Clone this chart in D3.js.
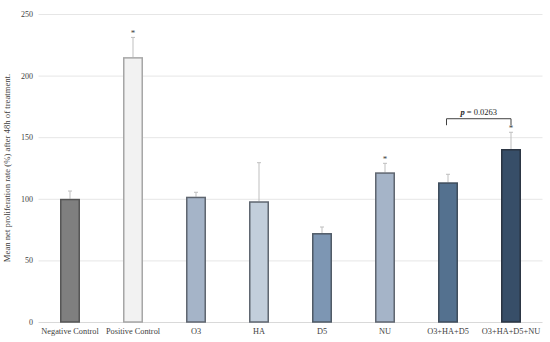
<!DOCTYPE html>
<html><head><meta charset="utf-8">
<script src="https://cdn.jsdelivr.net/npm/d3@7"></script>
<style>body{margin:0;background:#fff}svg{display:block}text{font-family:"Liberation Serif","DejaVu Serif",serif}</style>
</head><body><svg id="c" width="550" height="342"></svg>
<script>
const categories = ["Negative Control","Positive Control","O3","HA","D5","NU","O3+HA+D5","O3+HA+D5+NU"];
const values = [100, 215, 101.7, 98, 72.2, 121.5, 113.4, 140.4];
const errors = [6.3, 16, 3.6, 31.3, 4.9, 7.3, 6.5, 13.6];
const significant = [false, true, false, false, false, true, false, true];
const fills = ["#7f7f7f","#f2f2f2","#a5b4c8","#c2cedb","#7d96b3","#a5b4c8","#54718f","#374e68"];
const strokes = ["#555555","#a6a6a6","#5f6670","#5f6670","#4f5a66","#5f6670","#3e4c5c","#2a3442"];
const yTicks = [0, 50, 100, 150, 200, 250];
const comparison = {from: "O3+HA+D5", to: "O3+HA+D5+NU", label: "0.0263", level: 165};

const svg = d3.select("#c");
const x = d3.scaleBand().domain(categories).range([38.5, 542.5]).paddingInner(0.683).paddingOuter(0.3415);
const y = d3.scaleLinear().domain([0, 250]).range([322, 14]);

// gridlines
svg.append("g").selectAll("line").data(yTicks.filter(d=>d>0)).join("line")
  .attr("x1", 38.5).attr("x2", 542.5).attr("y1", d=>y(d)+0.5).attr("y2", d=>y(d)+0.5)
  .attr("stroke", "#e6e6e6").attr("stroke-width", 1);
svg.append("line").attr("x1",38.5).attr("x2",542.5).attr("y1",y(0)+0.5).attr("y2",y(0)+0.5)
  .attr("stroke","#d9d9d9");

// y axis tick labels
const ya = svg.append("g").attr("transform","translate(33,0)")
  .call(d3.axisLeft(y).tickValues(yTicks).tickSize(0).tickPadding(0));
ya.select(".domain").remove();
ya.selectAll("text").attr("font-family","Liberation Serif, serif").attr("font-size", 8).attr("fill","#404040");

// x axis labels
const xa = svg.append("g").attr("transform","translate(0,"+(y(0))+")")
  .call(d3.axisBottom(x).tickSize(0).tickPadding(6));
xa.select(".domain").remove();
xa.selectAll("text").attr("font-family","Liberation Serif, serif").attr("font-size", 8.3).attr("fill","#404040");

// error bars
const data = categories.map((c,i)=>({c, v: values[i], e: errors[i], s: significant[i], f: fills[i], k: strokes[i]}));
const eg = svg.append("g");
data.forEach(d=>{
  const cx = x(d.c) + x.bandwidth()/2;
  eg.append("line").attr("x1",cx).attr("x2",cx).attr("y1",y(d.v)).attr("y2",y(d.v+d.e))
    .attr("stroke","#bfbfbf").attr("stroke-width",1);
  eg.append("line").attr("x1",cx-2).attr("x2",cx+2).attr("y1",y(d.v+d.e)).attr("y2",y(d.v+d.e))
    .attr("stroke","#bfbfbf").attr("stroke-width",1);
  if (d.s) {
    eg.append("text").attr("x",cx).attr("y",y(d.v+d.e)-1.5).attr("text-anchor","middle")
      .attr("font-size",9).attr("fill","#404040").text("*");
  }
});

// bars
svg.append("g").selectAll("rect").data(data).join("rect")
  .attr("x", d=>x(d.c)+0.75).attr("y", d=>y(d.v)+0.75)
  .attr("width", x.bandwidth()-1.5).attr("height", d=>y(0)-y(d.v)-0.75)
  .attr("fill", d=>d.f).attr("stroke", d=>d.k).attr("stroke-width",1.5);

// comparison bracket
const x1 = x(comparison.from)+x.bandwidth()/2 - 1.5, x2 = x(comparison.to)+x.bandwidth()/2;
const by = y(comparison.level);
svg.append("path").attr("d", `M${x1},${by+6.5}V${by}H${x2}V${by+6.5}`)
  .attr("fill","none").attr("stroke","#404040").attr("stroke-width",1);
const t = svg.append("text").attr("x",(x1+x2)/2).attr("y",by-4).attr("text-anchor","middle")
  .attr("font-size",8.5).attr("fill","#262626");
t.append("tspan").attr("font-style","italic").attr("font-weight","bold").text("p");
t.append("tspan").text(" = " + comparison.label);

// y axis title
svg.append("text").attr("transform",`translate(10,${(y(0)+y(250))/2}) rotate(-90)`)
  .attr("text-anchor","middle").attr("font-size",8.7).attr("fill","#404040")
  .text("Mean net proliferation rate (%) after 48h of treatment.");
</script></body></html>
